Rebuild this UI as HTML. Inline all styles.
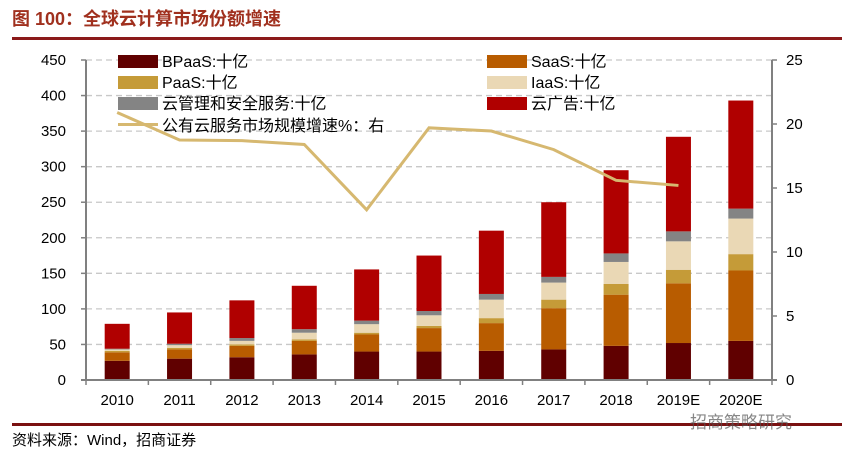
<!DOCTYPE html>
<html><head><meta charset="utf-8">
<style>
body{margin:0;background:#fff;width:845px;height:458px;overflow:hidden;font-family:"Liberation Sans","Noto Sans CJK SC",sans-serif;}
</style></head>
<body>
<svg width="845" height="458" xmlns="http://www.w3.org/2000/svg">
<text x="12" y="25" font-size="18" font-weight="bold" fill="#a0301e" font-family="Liberation Sans,Noto Sans CJK SC,sans-serif">图 100：全球云计算市场份额增速</text>
<rect x="12" y="37" width="830" height="3" fill="#8b1a1a"/>
<g id="grid"></g>
<g id="bars"></g>
<g id="axes"></g>
<g id="line"></g>
<g id="legend" font-size="16" fill="#000" font-family="Liberation Sans,Noto Sans CJK SC,sans-serif">
<rect x="118" y="55" width="40" height="13" fill="#600000"/>
<text x="162" y="67">BPaaS:十亿</text>
<rect x="487" y="55" width="40" height="13" fill="#b85c00"/>
<text x="531" y="67">SaaS:十亿</text>
<rect x="118" y="76" width="40" height="13" fill="#c59b38"/>
<text x="162" y="88">PaaS:十亿</text>
<rect x="487" y="76" width="40" height="13" fill="#ead8b5"/>
<text x="531" y="88">IaaS:十亿</text>
<rect x="118" y="97" width="40" height="13" fill="#848484"/>
<text x="162" y="109">云管理和安全服务:十亿</text>
<rect x="487" y="97" width="40" height="13" fill="#b00000"/>
<text x="531" y="109">云广告:十亿</text>
<rect x="118" y="123" width="40" height="3" fill="#d6b870"/>
<text x="162" y="131">公有云服务市场规模增速%：右</text>
</g>
<rect x="12" y="423" width="830" height="3" fill="#7a1010"/>
<text x="12" y="445" font-size="15" fill="#000" font-family="Liberation Sans,Noto Sans CJK SC,sans-serif">资料来源：Wind，招商证券</text>
<text x="690" y="428" font-size="17" fill="#555" opacity="0.7" font-family="Liberation Sans,Noto Sans CJK SC,sans-serif">招商策略研究</text>
</svg>
<script>
const categories=["2010","2011","2012","2013","2014","2015","2016","2017","2018","2019E","2020E"];
const bpaas=[27,30,32,36,40,40,41,43,48,52,55];
const saas=[12,13,16,19,24,33,39,58,72,84,99];
const paas=[2,2,2,2,2.5,3,7,12,15,19,23];
const iaas=[2,4,5,9.5,12,15,26,24,31,40,50];
const mgmt=[1,2,4,5,5,6,8,8,12,14,14];
const ads=[35,44,53,61,72,78,89,105,117,133,152];
const growth=[20.9,18.75,18.7,18.4,13.3,19.7,19.45,18.0,15.6,15.2,null];
const leftTicks=[0,50,100,150,200,250,300,350,400,450];
const rightTicks=[0,5,10,15,20,25];
const NS="http://www.w3.org/2000/svg";
const X0=86,X1=772,Y0=380,Y1=60;
const bw=(X1-X0)/categories.length;
const yL=v=>Y0-(v/450)*(Y0-Y1);
const yR=v=>Y0-(v/25)*(Y0-Y1);
const xC=i=>X0+bw*(i+0.5);
function mk(tag,attrs,parent){const e=document.createElementNS(NS,tag);for(const k in attrs)e.setAttribute(k,attrs[k]);document.getElementById(parent).appendChild(e);return e;}
leftTicks.forEach(t=>{if(t>0){const g=mk('line',{x1:X0,x2:X1,y1:yL(t),y2:yL(t),stroke:'#c8c8c8','stroke-width':1.3,'stroke-dasharray':'6,4'},'grid');

}
const tk=mk('text',{x:X0-20,y:yL(t)+5,'font-size':15,'text-anchor':'end',fill:'#000'},'axes');tk.textContent=t;


mk('line',{x1:X0-5,x2:X0,y1:yL(t),y2:yL(t),stroke:'#808080','stroke-width':1.5},'axes');});
rightTicks.forEach(t=>{const tk=mk('text',{x:X1+14,y:yR(t)+5,'font-size':15,fill:'#000'},'axes');tk.textContent=t;


mk('line',{x1:X1,x2:X1+5,y1:yR(t),y2:yR(t),stroke:'#808080','stroke-width':1.5},'axes');});
const la=mk('line',{x1:X0,x2:X0,y1:Y1,y2:Y0,stroke:'#808080','stroke-width':2},'axes');


const ra=mk('line',{x1:X1,x2:X1,y1:Y1,y2:Y0,stroke:'#808080','stroke-width':2},'axes');


const xa=mk('line',{x1:X0-5,x2:X1+5,y1:Y0,y2:Y0,stroke:'#808080','stroke-width':2},'axes');


for(let i=0;i<=categories.length;i++){mk('line',{x1:X0+bw*i,x2:X0+bw*i,y1:Y0,y2:Y0+5,stroke:'#808080','stroke-width':1.5},'axes');}
const series=[[bpaas,'#600000','bpaas'],[saas,'#b85c00','saas'],[paas,'#c59b38','paas'],[iaas,'#ead8b5','iaas'],[mgmt,'#848484','mgmt'],[ads,'#b00000','ads']];
categories.forEach((c,i)=>{let acc=0;
series.forEach(([arr,col,nm])=>{const v=arr[i];const r=mk('rect',{x:xC(i)-12.5,y:yL(acc+v),width:25,height:yL(acc)-yL(acc+v),fill:col},'bars');


acc+=v;});
const lb=mk('text',{x:xC(i),y:Y0+25,'font-size':15,'text-anchor':'middle',fill:'#000'},'axes');lb.textContent=c;

});
let d='';growth.forEach((v,i)=>{if(v!=null)d+=(d?'L':'M')+xC(i)+','+yR(v);});
const p=mk('path',{d:d,fill:'none',stroke:'#d6b870','stroke-width':3},'line');


</script>
</body></html>
